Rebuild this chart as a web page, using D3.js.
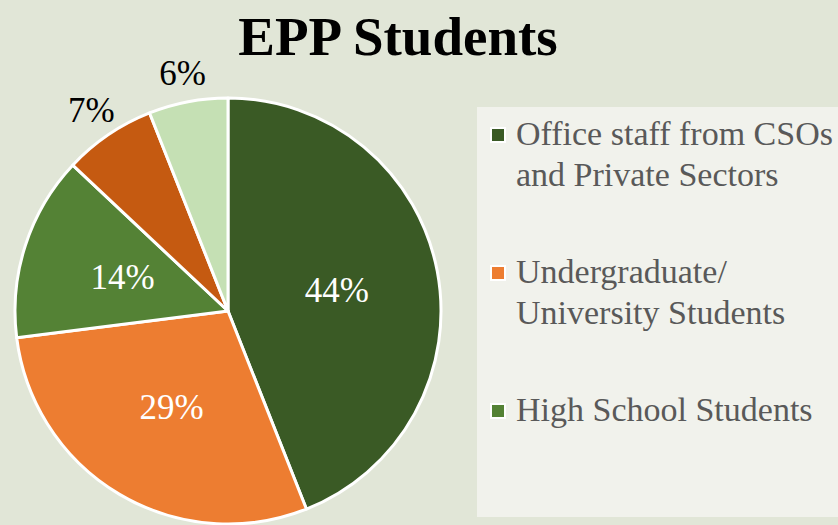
<!DOCTYPE html>
<html>
<head>
<meta charset="utf-8">
<script src="https://cdn.jsdelivr.net/npm/d3@7"></script>
<style>
  body { margin: 0; background: #e1e6d7; }
  svg { display: block; }
</style>
</head>
<body>
<div id="chart"></div>
<script>
// data
const title = "EPP Students";
const categories = [
    ["Office staff from CSOs", "and Private Sectors"],
    ["Undergraduate/", "University Students"],
    ["High School Students"],
    ["Other group 1"],
    ["Other group 2"]
];
const values = [44, 29, 14, 7, 6];
const colors = ["#3a5a25", "#ed7d31", "#548235", "#c55a11", "#c5e0b4"];
// only the first three legend entries fit in the legend box
const legendShown = 3;

const width = 838, height = 525;
const cx = 228, cy = 311, radius = 213;

const svg = d3.select("#chart").append("svg")
    .attr("width", width)
    .attr("height", height);

svg.append("rect")
    .attr("width", width)
    .attr("height", height)
    .attr("fill", "#e1e6d7");

svg.append("text")
    .text(title)
    .attr("x", 398)
    .attr("y", 55)
    .attr("text-anchor", "middle")
    .style("font-family", "'Liberation Serif', serif")
    .style("font-weight", "bold")
    .style("font-size", "55px")
    .attr("fill", "#000");

let pie = d3.pie().sort(null).value(d => d);
let arcs = pie(values);
let arc = d3.arc().innerRadius(0).outerRadius(radius);
let inner = d3.arc().innerRadius(radius * 0.52).outerRadius(radius * 0.52);
let outer = d3.arc().innerRadius(radius + 30).outerRadius(radius + 30);

let g = svg.append("g")
    .attr("transform", "translate(" + cx + "," + cy + ")");

g.selectAll("path")
    .data(arcs)
    .enter()
    .append("path")
    .attr("d", arc)
    .attr("fill", (d, i) => colors[i])
    .attr("stroke", "#fff")
    .attr("stroke-width", 3)
    .attr("stroke-linejoin", "round");

// big slices get their label inside, small ones outside
g.selectAll(".lbl")
    .data(arcs)
    .enter()
    .append("text")
    .attr("class", "lbl")
    .text(d => d.data + "%")
    .attr("transform", d => {
        let c = d.data >= 10 ? inner.centroid(d) : outer.centroid(d);
        return "translate(" + c[0] + "," + c[1] + ")";
    })
    .attr("text-anchor", "middle")
    .attr("dy", "0.35em")
    .style("font-family", "'Liberation Serif', serif")
    .style("font-size", "35px")
    .attr("fill", d => d.data >= 10 ? "#fff" : "#000");

// legend
let legend = svg.append("g");
legend.append("rect")
    .attr("x", 477)
    .attr("y", 107)
    .attr("width", width - 477)
    .attr("height", 410)
    .attr("fill", "#f1f2ec");

let rowY = d3.scaleLinear().domain([0, 1]).range([145, 283]);
let entries = legend.selectAll(".entry")
    .data(categories.slice(0, legendShown))
    .enter()
    .append("g")
    .attr("class", "entry")
    .attr("transform", (d, i) => "translate(0," + rowY(i) + ")");

entries.append("rect")
    .attr("x", 491)
    .attr("y", -17)
    .attr("width", 14)
    .attr("height", 14)
    .attr("fill", (d, i) => colors[i])
    .attr("stroke", "#fff")
    .attr("stroke-width", 2);

entries.each(function (lines) {
    let t = d3.select(this).append("text")
        .attr("x", 516)
        .attr("y", 0)
        .style("font-family", "'Liberation Serif', serif")
        .style("font-size", "34px")
        .attr("fill", "#595959");
    lines.forEach((l, k) => {
        t.append("tspan")
            .attr("x", 516)
            .attr("dy", k === 0 ? 0 : 41)
            .text(l);
    });
});
</script>
</body>
</html>
